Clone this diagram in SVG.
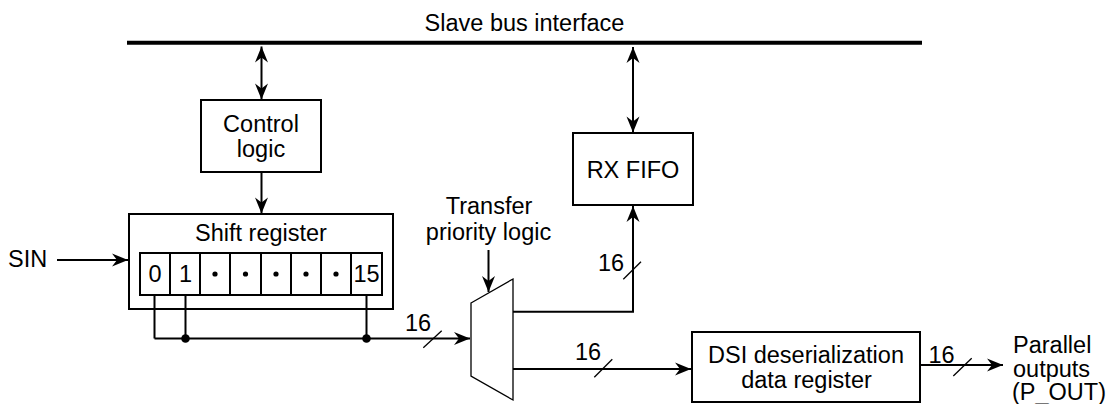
<svg xmlns="http://www.w3.org/2000/svg" width="1112" height="404" viewBox="0 0 1112 404">
<style>
text{font-family:"Liberation Sans",Arial,sans-serif;font-size:23.5px;fill:#000}
.m{text-anchor:middle}
.box{fill:#fff;stroke:#000;stroke-width:2}
.ln{fill:none;stroke:#000;stroke-width:2}
.thin{fill:none;stroke:#000;stroke-width:1.3}
</style>
<defs>
<marker id="ah" markerUnits="userSpaceOnUse" markerWidth="20" markerHeight="16" viewBox="-17 -8 18 16" refX="0" refY="0" orient="auto-start-reverse">
<path d="M0,0 L-16,-6.5 L-11,0 L-16,6.5 Z" fill="#000"/>
</marker>
</defs>
<g id="bus">
<line x1="127" y1="42.7" x2="922" y2="42.7" stroke="#000" stroke-width="4"/>
<text class="m" x="524.5" y="31">Slave bus interface</text>
</g>
<g id="control-logic">
<rect class="box" x="201" y="100" width="120" height="72"/>
<text class="m" x="261" y="132">Control</text>
<text class="m" x="261" y="157">logic</text>
</g>
<g id="shift-register">
<rect class="box" x="129" y="214" width="264" height="95"/>
<text class="m" x="261" y="241">Shift register</text>
<rect class="box" x="140" y="253" width="242" height="42"/>
<path class="ln" d="M170,253V295M200,253V295M230,253V295M261,253V295M291,253V295M321,253V295M351,253V295"/>
<text class="m" x="155" y="282">0</text>
<text class="m" x="185.5" y="282">1</text>
<circle cx="215" cy="274" r="2.6"/>
<circle cx="245.5" cy="274" r="2.6"/>
<circle cx="276" cy="274" r="2.6"/>
<circle cx="306" cy="274" r="2.6"/>
<circle cx="336" cy="274" r="2.6"/>
<text class="m" x="366.5" y="282">15</text>
</g>
<g id="sin">
<text x="8" y="266.5">SIN</text>
</g>
<g id="mux">
<polygon class="thin" points="471,303 513,279 513,400 471,376" fill="#fff"/>
<text class="m" x="489" y="214">Transfer</text>
<text class="m" x="488.5" y="240">priority logic</text>
</g>
<g id="rx-fifo">
<rect class="box" x="573" y="133" width="120" height="72"/>
<text class="m" x="633" y="178">RX FIFO</text>
</g>
<g id="dsi">
<rect class="box" x="692" y="332" width="228" height="70"/>
<text class="m" x="806" y="363">DSI deserialization</text>
<text class="m" x="806.5" y="388">data register</text>
</g>
<g id="outputs">
<text x="1013" y="353">Parallel</text>
<text x="1013" y="377">outputs</text>
<text x="1012" y="400">(P_OUT)</text>
</g>
<g id="connectors">
<line class="ln" x1="261.5" y1="46.5" x2="261.5" y2="99.5" marker-start="url(#ah)" marker-end="url(#ah)"/>
<line class="ln" x1="633" y1="47" x2="633" y2="132.5" marker-start="url(#ah)" marker-end="url(#ah)"/>
<line class="ln" x1="261.5" y1="172" x2="261.5" y2="213.5" marker-end="url(#ah)"/>
<line class="ln" x1="57" y1="260" x2="128" y2="260" marker-end="url(#ah)"/>
<line class="ln" x1="488.5" y1="250" x2="488.5" y2="292" marker-end="url(#ah)"/>
<path class="ln" d="M154.5,295V338.5M185.5,295V338.5M366.5,295V338.5"/>
<line class="ln" x1="154.5" y1="338.5" x2="470" y2="338.5" marker-end="url(#ah)"/>
<circle cx="185.5" cy="338.5" r="4.3"/>
<circle cx="366.5" cy="338.5" r="4.3"/>
<line class="thin" x1="423.3" y1="347.7" x2="441.7" y2="330.7"/>
<text x="405" y="330.5">16</text>
<path class="ln" d="M513,311.7H633V206" marker-end="url(#ah)"/>
<line class="thin" x1="623.3" y1="279.3" x2="641" y2="261.7"/>
<text x="598" y="270.5">16</text>
<line class="ln" x1="513" y1="369" x2="691" y2="369" marker-end="url(#ah)"/>
<line class="thin" x1="594.3" y1="377.3" x2="612.3" y2="359.3"/>
<text x="575" y="360">16</text>
<line class="ln" x1="920" y1="365" x2="1003" y2="365" marker-end="url(#ah)"/>
<line class="thin" x1="953.3" y1="376" x2="971.7" y2="358.3"/>
<text x="928.5" y="363">16</text>
</g>
</svg>
